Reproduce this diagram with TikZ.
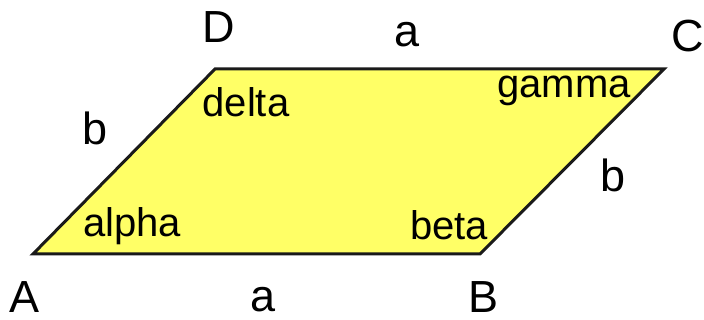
\documentclass[tikz,border=0pt]{standalone}
\usepackage{fontspec}
\setmainfont{Liberation Sans}
\definecolor{fillyellow}{HTML}{FFFF66}
\definecolor{edge}{HTML}{1A1A1A}
\begin{document}
\begin{tikzpicture}[x=1pt,y=1pt,
  vlabel/.style={inner sep=0pt,anchor=base,font=\fontsize{45}{45}\selectfont},
  alabel/.style={inner sep=0pt,anchor=base,font=\fontsize{40}{40}\selectfont}]
\useasboundingbox (0,0) rectangle (704,320);
\coordinate (A) at (33,66);
\coordinate (B) at (480,66);
\coordinate (C) at (664,251);
\coordinate (D) at (215,251);
\draw[fill=fillyellow,draw=edge,line width=3pt,line join=miter] (A) -- (B) -- (C) -- (D) -- cycle;
\node[vlabel] (lA) at (25,7) {A};
\node[vlabel] (lB) at (484,7) {B};
\node[vlabel,anchor=base west] (lC) at (671,268) {C};
\node[vlabel] (lD) at (219,277) {D};
\node[vlabel] (ltop) at (407,273) {a};
\node[vlabel] (lbot) at (263,8) {a};
\node[vlabel] (lbl) at (95,175) {b};
\node[vlabel] (lbr) at (613,128) {b};
\node[alabel] (delta) at (246,203) {delta};
\node[alabel] (gamma) at (564,222) {gamma};
\node[alabel] (alpha) at (132,83) {alpha};
\node[alabel] (beta) at (449,80) {beta};
\end{tikzpicture}
\end{document}
